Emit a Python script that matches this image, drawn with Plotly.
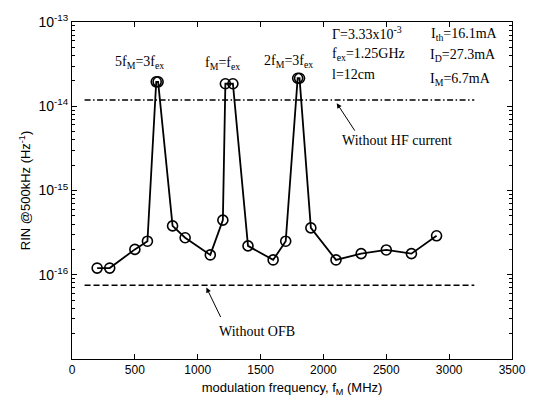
import plotly.graph_objects as go

# ---- data ----
freq_mhz = [200, 300, 500, 600, 670, 685, 800, 900, 1100, 1200, 1220, 1280,
            1400, 1600, 1700, 1795, 1810, 1900, 2100, 2300, 2500, 2700, 2900]
rin = [1.2e-16, 1.2e-16, 2.0e-16, 2.5e-16, 1.95e-14, 1.95e-14, 3.8e-16, 2.75e-16,
       1.72e-16, 4.45e-16, 1.85e-14, 1.85e-14, 2.2e-16, 1.5e-16, 2.5e-16,
       2.15e-14, 2.15e-14, 3.6e-16, 1.5e-16, 1.78e-16, 1.97e-16, 1.78e-16, 2.9e-16]

ref_x = [100, 3200]
hf_level = [1.19e-14, 1.19e-14]     # Without HF current
ofb_level = [7.5e-17, 7.5e-17]      # Without OFB

x_ticks = [0, 500, 1000, 1500, 2000, 2500, 3000, 3500]
y_major = [1e-16, 1e-15, 1e-14, 1e-13]
y_major_text = ["10<sup>-16</sup>", "10<sup>-15</sup>", "10<sup>-14</sup>", "10<sup>-13</sup>"]
y_minor = [k * 10.0 ** e for e in range(-17, -13) for k in range(2, 10)]

SERIF = "Liberation Serif"
SANS = "Liberation Sans"

fig = go.Figure()
fig.add_trace(go.Scatter(x=ref_x, y=hf_level, mode="lines",
                         line=dict(color="black", width=1.5, dash="6px,2.5px,1.5px,2.5px"),
                         showlegend=False, hoverinfo="skip"))
fig.add_trace(go.Scatter(x=ref_x, y=ofb_level, mode="lines",
                         line=dict(color="black", width=1.5, dash="6px,3px"),
                         showlegend=False, hoverinfo="skip"))
fig.add_trace(go.Scatter(x=freq_mhz, y=rin, mode="lines+markers",
                         line=dict(color="black", width=1.8),
                         marker=dict(symbol="circle-open", size=10, color="black",
                                     line=dict(width=1.6, color="black")),
                         showlegend=False))

fig.update_xaxes(range=[0, 3500], tickvals=x_ticks, ticks="inside", ticklen=5,
                 tickcolor="black", showline=True, linecolor="black", linewidth=1,
                 mirror="ticks", showgrid=False, zeroline=False,
                 tickfont=dict(family=SANS, size=12, color="black"),
                 title=dict(text="modulation frequency, f<sub>M</sub> (MHz)",
                            font=dict(family=SANS, size=13, color="black"), standoff=6))
fig.update_yaxes(type="log", range=[-17, -13], tickvals=y_major, ticktext=y_major_text,
                 ticks="inside", ticklen=5, tickcolor="black", showline=True,
                 linecolor="black", linewidth=1, mirror="ticks", showgrid=False,
                 zeroline=False,
                 minor=dict(tickvals=y_minor, ticks="inside", ticklen=3,
                            tickcolor="black", showgrid=False),
                 tickfont=dict(family=SANS, size=14, color="black"),
                 title=dict(text="RIN @500kHz (Hz<sup>-1</sup>)",
                            font=dict(family=SANS, size=13, color="black"), standoff=4))

def txt(text, x, y, xanchor="center"):
    fig.add_annotation(text=text, x=x, y=y, xref="paper", yref="paper",
                       xanchor=xanchor, yanchor="middle", showarrow=False,
                       font=dict(family=SERIF, size=14, color="black"))

txt("5f<sub>M</sub>=3f<sub>ex</sub>", 0.154, 0.879)
txt("f<sub>M</sub>=f<sub>ex</sub>", 0.342, 0.877)
txt("2f<sub>M</sub>=3f<sub>ex</sub>", 0.491, 0.884)
txt("Γ=3.33x10<sup>-3</sup>", 0.586, 0.966, "left")
txt("f<sub>ex</sub>=1.25GHz", 0.586, 0.905, "left")
txt("l=12cm", 0.586, 0.843, "left")
txt("I<sub>th</sub>=16.1mA", 0.812, 0.963, "left")
txt("I<sub>D</sub>=27.3mA", 0.808, 0.902, "left")
txt("I<sub>M</sub>=6.7mA", 0.810, 0.830, "left")
txt("Without HF current", 0.738, 0.648)
txt("Without OFB", 0.421, 0.083)

# arrows
fig.add_annotation(text="", x=2106, y=-13.963, xref="x", yref="y",
                   ax=19, ay=29, showarrow=True, arrowhead=2, arrowsize=1,
                   arrowwidth=1, arrowcolor="black")
fig.add_annotation(text="", x=1069, y=-16.152, xref="x", yref="y",
                   ax=15, ay=31, showarrow=True, arrowhead=2, arrowsize=1,
                   arrowwidth=1, arrowcolor="black")

fig.update_layout(width=538, height=405, margin=dict(l=72, r=24, t=15, b=41),
                  plot_bgcolor="white", paper_bgcolor="white")
fig.write_html("out.html")
